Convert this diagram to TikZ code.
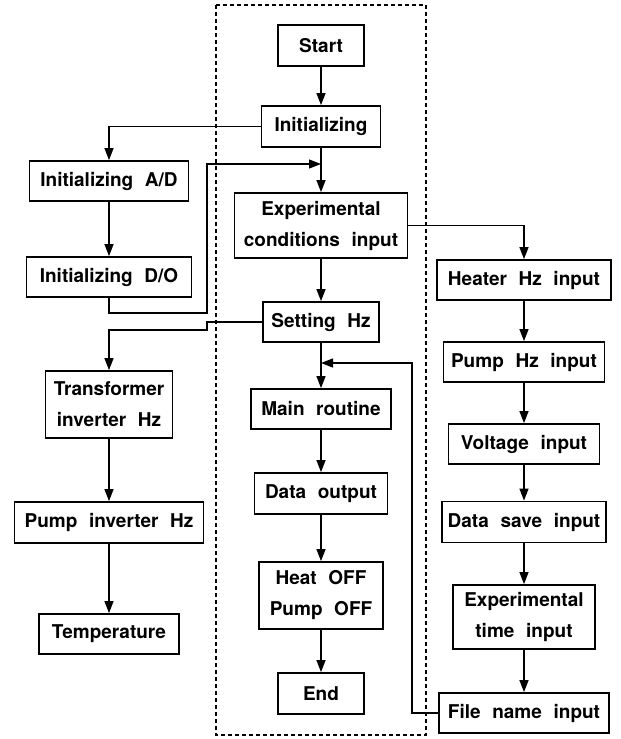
\documentclass[tikz,border=0pt]{standalone}
\usepackage{fontspec}
\setmainfont{TeX Gyre Heros}[WordSpace=2.2]
\usetikzlibrary{arrows.meta}
\begin{document}
\begin{tikzpicture}[x=1pt,y=-1pt,
  box/.style={draw, line width=1.8pt, inner sep=0pt, align=center,
    font=\bfseries\fontsize{19}{31}\selectfont},
  conn/.style={line width=1.3pt, -{Triangle[length=12pt,width=9pt]}},
  frame/.style={line width=1.1pt, dash pattern=on 4pt off 3pt}]
\useasboundingbox (0,0) rectangle (621,739);

% dashed frame round the main program
\draw[frame] (216,5) rectangle (426,735);

% main program column
\node[box, minimum width=86,  minimum height=41] (start) at (321,45.5)  {Start};
\node[box, minimum width=119, minimum height=41] (init)  at (321,126.5) {Initializing};
\node[box, minimum width=173, minimum height=65] (expc)  at (321,225.5) {Experimental\\conditions input};
\node[box, minimum width=116, minimum height=40] (seth)  at (321,322)   {Setting Hz};
\node[box, minimum width=140, minimum height=40] (mainr) at (321,409)   {Main routine};
\node[box, minimum width=133, minimum height=41] (dout)  at (321,493.5) {Data output};
\node[box, minimum width=124, minimum height=67] (heat)  at (321,595.5) {Heat OFF\\Pump OFF};
\node[box, minimum width=86,  minimum height=41] (endn)  at (321,693.5) {End};

% initialisation and setting column
\node[box, minimum width=159, minimum height=40] (ad)    at (109,181)   {Initializing A/D};
\node[box, minimum width=165, minimum height=40] (do)    at (109,277)   {Initializing D/O};
\node[box, minimum width=127, minimum height=67] (trans) at (109,404.5) {Transformer\\inverter Hz};
\node[box, minimum width=189, minimum height=41] (pinv)  at (109,522.5) {Pump inverter Hz};
\node[box, minimum width=140, minimum height=40] (temp)  at (109,634)   {Temperature};

% input column
\node[box, minimum width=174, minimum height=40] (heater)  at (524,280) {Heater Hz input};
\node[box, minimum width=161, minimum height=40] (pumphz)  at (524,362) {Pump Hz input};
\node[box, minimum width=151, minimum height=40] (volt)    at (524,444) {Voltage input};
\node[box, minimum width=164, minimum height=41] (dsave)   at (524,522) {Data save input};
\node[box, minimum width=142, minimum height=64] (exptime) at (524,617) {Experimental\\time input};
\node[box, minimum width=170, minimum height=40] (fname)   at (524,713) {File name input};

% junctions on the main line
\coordinate (j1) at (321,164);
\coordinate (j2) at (321,363);

% main flow
\draw[conn] (start) -- (init);
\draw[conn] (init) -- (expc);
\draw[conn] (expc) -- (seth);
\draw[conn] (seth) -- (mainr);
\draw[conn] (mainr) -- (dout);
\draw[conn] (dout) -- (heat);
\draw[conn] (heat) -- (endn);

% initialisation branch and return
\draw[conn] (init.west) -| (ad.north);
\draw[conn] (ad) -- (do);
\draw[conn] (do.south) |- (207,313) -- (207,164) -- (j1);

% frequency setting branch
\draw[conn] (seth.west) -| (207,330) -| (trans.north);
\draw[conn] (trans) -- (pinv);
\draw[conn] (pinv) -- (temp);

% input branch and return to the main routine
\draw[conn] (expc.east) -| (heater.north);
\draw[conn] (heater) -- (pumphz);
\draw[conn] (pumphz) -- (volt);
\draw[conn] (volt) -- (dsave);
\draw[conn] (dsave) -- (exptime);
\draw[conn] (exptime) -- (fname);
\draw[conn] (fname.west) -| (412,363) -- (j2);
\end{tikzpicture}
\end{document}
